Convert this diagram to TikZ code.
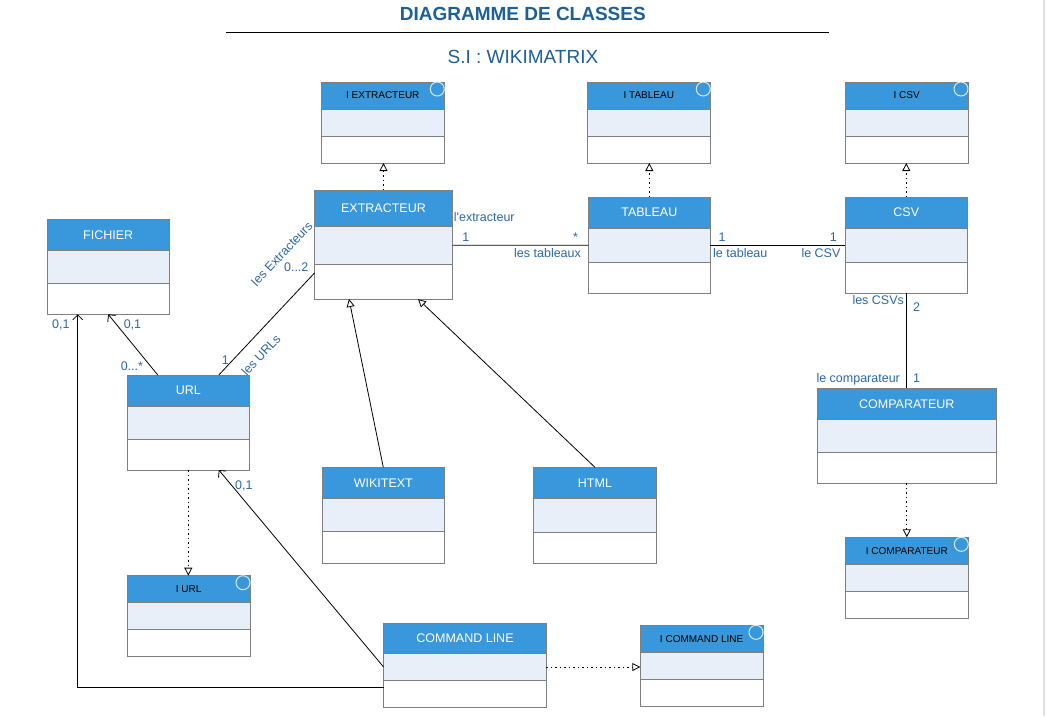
\documentclass[tikz,border=0pt]{standalone}
\usepackage{fontspec}
\setmainfont{Liberation Sans}
\usetikzlibrary{arrows.meta, positioning, calc}

\definecolor{headblue}{HTML}{3898DB}
\definecolor{midblue}{HTML}{E8EFF9}
\definecolor{boxgray}{HTML}{7F7F7F}
\definecolor{labblue}{HTML}{2B67A6}
\definecolor{titleblue}{HTML}{1E5F94}
\definecolor{ringblue}{HTML}{D6E9F8}

\begin{document}
\begin{tikzpicture}[x=1pt,y=-1pt,
		classhead/.style={draw=boxgray, fill=headblue, text=white, font=\fontsize{12.5}{14}\selectfont, inner sep=0pt, outer sep=0pt, anchor=north west, line width=1pt},
		ifhead/.style={classhead, text=black, font=\fontsize{10}{12}\selectfont},
		classmid/.style={draw=boxgray, fill=midblue, inner sep=0pt, outer sep=0pt, line width=1pt},
		classbody/.style={draw=boxgray, fill=white, inner sep=0pt, outer sep=0pt, line width=1pt},
		ifring/.style={draw=ringblue, line width=1pt},
		lab/.style={text=labblue, font=\fontsize{12.5}{14}\selectfont, inner sep=0pt},
		assoc/.style={draw=black, line width=0.8pt},
		navig/.style={assoc, -{Straight Barb[length=5pt,width=10pt]}},
		inherit/.style={assoc, -{Triangle[open,length=8pt,width=8pt,fill=white]}},
		realize/.style={inherit, dash pattern=on 1.5pt off 3pt}]
		\useasboundingbox (0,0) rectangle (1046,716);
		%draw title
		\node[text=titleblue, font=\fontsize{19}{22}\selectfont\bfseries, anchor=base] (title) at (522.8,20.7) {DIAGRAMME DE CLASSES};
		\node[text=titleblue, font=\fontsize{19}{22}\selectfont, anchor=base] (subtitle) at (522.9,63.3) {S.I : WIKIMATRIX};
		\draw[line width=1pt] (226,32.3) -- (829,32.3);
		\draw[gray!25, line width=1.5pt] (1044,0) -- (1044,716);
		%draw classes
		\foreach \id/\x/\y/\w/\hh/\mh/\bh/\name in {
			extr/314.5/190/138/36/38.3/34.7/EXTRACTEUR,
			fich/47.3/219/121.7/31.7/32.6/31/FICHIER,
			url/127.3/375/122/31/33.3/30.7/URL,
			tab/588.3/197/122/31.3/34/31/TABLEAU,
			csv/845.3/197/122/31.3/34/31/CSV,
			comp/817.3/388.3/179/31/33/31/COMPARATEUR,
			wiki/322.2/467.3/122.2/31/33/32/WIKITEXT,
			html/533.6/467.3/122.7/31.4/33.3/31.3/HTML,
			cmd/383.6/623.3/162.8/30.4/26.6/27/COMMAND LINE}{
			\node[classhead, minimum width=\w pt, minimum height=\hh pt] (\id) at (\x,\y) {\name};
			\node[classmid, minimum width=\w pt, minimum height=\mh pt, below=0pt of \id] (\id-m) {};
			\node[classbody, minimum width=\w pt, minimum height=\bh pt, below=0pt of \id-m] (\id-b) {};
		}
		%draw interfaces
		\foreach \id/\x/\y/\w/\name in {
			iextr/321.3/82/123/I EXTRACTEUR,
			itab/587.3/82/123/I TABLEAU,
			icsv/845.3/82/122.7/I CSV,
			icomp/845.3/537.3/123/I COMPARATEUR,
			iurl/127.3/575.7/122.7/I URL,
			icmd/640.3/625.3/122.7/I COMMAND LINE}{
			\node[ifhead, minimum width=\w pt, minimum height=27pt] (\id) at (\x,\y) {\name};
			\node[classmid, minimum width=\w pt, minimum height=27pt, below=0pt of \id] (\id-m) {};
			\node[classbody, minimum width=\w pt, minimum height=27pt, below=0pt of \id-m] (\id-b) {};
			\draw[ifring] ([xshift=-7pt,yshift=-7pt]\id.north east) circle[radius=7pt];
		}
		%draw realisations
		\draw[realize] (extr.north) -- (extr.north |- iextr-b.south);
		\draw[realize] (tab.north) -- (tab.north |- itab-b.south);
		\draw[realize] (csv.north) -- (csv.north |- icsv-b.south);
		\draw[realize] (comp-b.south) -- (comp-b.south |- icomp.north);
		\draw[realize] (url-b.south) -- (url-b.south |- iurl.north);
		\draw[realize] (cmd-m.east) -- (cmd-m.east -| icmd-m.west);
		%draw generalisations
		\draw[inherit] (wiki.north) -- ($(extr-b.south west)!0.25!(extr-b.south east)$);
		\draw[inherit] (html.north) -- ($(extr-b.south west)!0.75!(extr-b.south east)$);
		%draw associations
		\draw[assoc] (extr-m.east) -- (tab-m.west)
			node[lab, at start, anchor=base west, xshift=1pt, yshift=24pt] (r-extr) {l\textquotesingle extracteur}
			node[lab, at start, anchor=base west, xshift=9.5pt, yshift=4pt] (m-extr) {1}
			node[lab, at end, anchor=base east, xshift=-10pt, yshift=4pt] (m-tabs) {*}
			node[lab, at end, anchor=base east, xshift=-7pt, yshift=-12.5pt] (r-tabs) {les tableaux};
		\draw[assoc] (tab-m.east) -- (csv-m.west)
			node[lab, at start, anchor=base west, xshift=8pt, yshift=4pt] (m-tab) {1}
			node[lab, at start, anchor=base west, xshift=2.5pt, yshift=-12.5pt] (r-tab) {le tableau}
			node[lab, at end, anchor=base east, xshift=-8pt, yshift=4pt] (m-csv) {1}
			node[lab, at end, anchor=base east, xshift=-4.5pt, yshift=-12.5pt] (r-csv) {le CSV};
		\draw[assoc] (csv-b.south) -- (csv-b.south |- comp.north)
			node[lab, at start, anchor=base east, xshift=-2pt, yshift=-10.7pt] (r-csvs) {les CSVs}
			node[lab, at start, anchor=base west, xshift=6.5pt, yshift=-18.4pt] (m-csvs) {2}
			node[lab, at end, anchor=base east, xshift=-6pt, yshift=5.5pt] (r-comp) {le comparateur}
			node[lab, at end, anchor=base west, xshift=6.3pt, yshift=5.5pt] (m-comp) {1};
		\draw[assoc] ($(url.north west)!0.75!(url.north east)$) -- ($(extr-b.north west)!0.25!(extr-b.south west)$)
			node[lab, at start, anchor=base west, xshift=2.6pt, yshift=11pt] (m-url) {1}
			node[lab, pos=0.31, sloped, below=12pt] (r-urls) {les URLs}
			node[lab, pos=0.94, sloped, above=32pt] (r-extrs) {les Extracteurs}
			node[lab, at end, anchor=base east, xshift=-5.7pt, yshift=1.3pt] (m-extrs) {0...2};
		\draw[navig] ($(url.north west)!0.25!(url.north east)$) -- (fich-b.south)
			node[lab, at start, anchor=base east, xshift=-14.4pt, yshift=4.3pt] (m-urlf) {0...*}
			node[lab, at end, anchor=base west, xshift=15.2pt, yshift=-14pt] (m-fichu) {0,1};
		\draw[navig] (cmd-m.west) -- ($(url-b.south west)!0.75!(url-b.south east)$)
			node[lab, at end, anchor=base west, xshift=16pt, yshift=-19pt] (m-urlc) {0,1};
		\draw[navig] ($(cmd-b.north west)!0.25!(cmd-b.south west)$) -| ($(fich-b.south west)!0.25!(fich-b.south east)$)
			node[lab, at end, anchor=base east, xshift=-7.7pt, yshift=-14pt] (m-fichc) {0,1};
\end{tikzpicture}
\end{document}
